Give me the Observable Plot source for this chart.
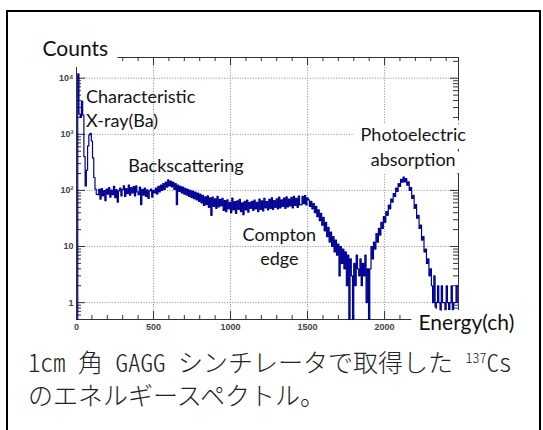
<!DOCTYPE html>
<html><head><meta charset="utf-8">
<script src="https://cdn.jsdelivr.net/npm/d3@7"></script>
<script src="https://cdn.jsdelivr.net/npm/@observablehq/plot@0.6"></script>
<style>
html,body{margin:0;padding:0;background:#fff;overflow:hidden;width:543px;height:430px;}
#chart{position:absolute;left:0;top:0;}
#frame{position:absolute;left:6px;top:10px;width:531px;height:440px;border:2px solid #000;pointer-events:none;}
#caption{position:absolute;left:28px;top:345px;font-family:"Noto Sans CJK JP";font-weight:300;font-size:25px;line-height:33px;white-space:nowrap;color:#222;}
#caption .h{font-feature-settings:"hwid";}
#caption sup{font-size:14px;vertical-align:9px;line-height:0;}
</style></head>
<body>
<div id="chart"></div>
<div id="caption"><span class="h">1cm </span>角<span class="h"> GAGG </span>シンチレータで取得した<span class="h"> </span><sup class="h">137</sup><span class="h">Cs</span><br>のエネルギースペクトル。</div>
<div id="frame"></div>
<script>
// ---- data (counts per 8-channel bin) ----
const binWidth = 8;
const counts = [
  0, 12000, 2300, 2000, 3900, 2200, 400, 120, 230, 620, 980, 1040, 760, 380, 170, 105, 85,
  84, 104, 70, 108, 80, 99, 66, 106, 86, 112, 76, 101, 84, 118, 74, 103, 62, 98, 110, 80, 104, 120, 78, 108, 88, 125, 82, 112, 90, 117, 80, 121, 94, 84, 114, 56, 104, 82, 110, 78, 102, 72, 98, 106, 76, 100,
  90, 110, 86, 118, 94, 125, 100, 132, 104, 140, 114, 155, 120, 146, 116, 140, 104, 132,
  56, 124, 96, 118, 90, 114, 86, 109, 82, 104, 78, 100, 74, 97, 71, 93, 68, 90, 64, 86,
  60, 82, 54, 77, 56, 80, 50, 74, 36, 76, 52, 71, 48, 78, 51, 69,
  53, 72, 44, 66, 42, 68, 47, 61, 40, 73, 45, 63, 39, 65, 46, 69, 42, 60, 37, 64, 45, 67, 41, 61, 48,
  64, 44, 67, 47, 61, 42, 70, 46, 65, 43, 72, 49, 63, 45, 69, 48, 74, 46, 66, 50, 71, 47, 76, 49, 68, 52, 73, 48, 77, 51, 70, 53, 75, 49, 78, 54, 72, 50, 79, 55,
  56, 78, 58, 81, 55, 74,
  68, 52, 64, 47, 58, 40, 52, 34, 45, 29, 39, 24, 33, 19, 27, 15, 22, 12, 18, 10, 15, 8, 13, 7, 11, 3, 10, 5, 9, 4, 8, 2, 7,
  0, 6, 3, 0, 5, 2, 7, 4, 3, 6, 2, 5, 3, 7, 1, 4, 0,
  4, 10, 6, 12, 9, 17, 12, 21, 16, 27, 21, 34, 27, 42, 36, 55, 47, 70, 62, 88, 78, 110, 96, 132, 118, 158, 140,
  172, 142, 162, 124, 142, 100, 112, 72, 82, 48, 56, 32, 36, 21, 24, 13, 15, 8, 9, 5, 6, 3, 4,
  2, 1, 3, 0, 1, 2, 1, 0, 2, 1, 1, 0, 2, 1, 0, 1, 2, 0, 1, 1, 2, 1
];
const xMajorTicks = [0, 500, 1000, 1500, 2000];
const xMinorTicks = [100, 200, 300, 400, 600, 700, 800, 900, 1100, 1200, 1300, 1400, 1600, 1700, 1800, 1900, 2100, 2200, 2300, 2400];
const yMajorTicks = [1, 10, 100, 1000, 10000];
const yTickLabels = ["1", "10", "10²", "10³", "10⁴"];
const yMinorTicks = [0.6, 0.7, 0.8, 0.9, 2, 3, 4, 5, 6, 7, 8, 9, 20, 30, 40, 50, 60, 70, 80, 90,
  200, 300, 400, 500, 600, 700, 800, 900, 2000, 3000, 4000, 5000, 6000, 7000, 8000, 9000, 20000];
const annotationTexts = ["Characteristic\nX-ray(Ba)", "Backscattering", "Compton\nedge", "Photoelectric\nabsorption"];
const annotationChannels = [62, 710, 1317, 2186];
const annotationCounts = [3060, 292, 10.4, 626];
const yAxisLabel = "Counts";
const xAxisLabel = "Energy(ch)";

// ---- layout ----
const W = 543, H = 345;
const mL = 76, mR = 85, mT = 57, mB = 26;
const plotW = W - mL - mR, plotH = H - mT - mB;
const yMin = 0.5, yMax = 23400, xMax = 2480;
const blue = "#000094";
const axisColor = "#333";
const gridStyle = {stroke: "#8c8c8c", strokeDasharray: "1,1.6"};
const labelFont = "Lato";

const hist = counts.map((c, i) => ({ch: i * binWidth, c}));
const ann = annotationTexts.map((t, i) => ({t, ch: annotationChannels[i], n: annotationCounts[i]}));

const chart = Plot.plot({
  width: W, height: H,
  marginLeft: mL, marginRight: mR, marginTop: mT, marginBottom: mB,
  x: {domain: [0, xMax]},
  y: {type: "log", domain: [yMin, yMax]},
  style: {background: "transparent", fontFamily: "Liberation Sans"},
  marks: [
    Plot.ruleX(xMajorTicks.slice(1), gridStyle),
    Plot.ruleY(yMajorTicks, gridStyle),
    Plot.frame({stroke: axisColor}),
    // inward ticks, ROOT style
    Plot.ruleX(xMajorTicks, {insetTop: plotH - 8, stroke: axisColor}),
    Plot.ruleX(xMinorTicks, {insetTop: plotH - 4, stroke: axisColor}),
    Plot.ruleX(xMajorTicks, {insetBottom: plotH - 8, stroke: axisColor}),
    Plot.ruleX(xMinorTicks, {insetBottom: plotH - 4, stroke: axisColor}),
    Plot.ruleY(yMajorTicks, {insetRight: plotW - 9, stroke: axisColor}),
    Plot.ruleY(yMinorTicks, {insetRight: plotW - 5, stroke: axisColor}),
    Plot.ruleY(yMajorTicks, {insetLeft: plotW - 8, stroke: axisColor}),
    Plot.ruleY(yMinorTicks, {insetLeft: plotW - 5, stroke: axisColor}),
    Plot.axisX(xMajorTicks, {tickSize: 0, tickPadding: 4, label: null, fontSize: 9, fontWeight: "bold", fill: "#444", tickFormat: d => String(d)}),
    Plot.axisY(yMajorTicks, {tickSize: 0, tickPadding: 3, label: null, fontSize: 9, fontWeight: "bold", fill: "#444", tickFormat: d => yTickLabels[yMajorTicks.indexOf(d)]}),
    // spectrum
    Plot.lineY(hist, {x: "ch", y: d => Math.max(d.c, yMin), curve: "step-after", stroke: blue, strokeWidth: 1.2}),
    // annotations
    Plot.text(ann.slice(0, 1), {x: "ch", y: "n", text: "t", textAnchor: "start", lineHeight: 1.33, fontFamily: labelFont, fontSize: 18, fill: "#151515"}),
    Plot.text(ann.slice(1, 3), {x: "ch", y: "n", text: "t", textAnchor: "middle", lineHeight: 1.33, fontFamily: labelFont, fontSize: 18, fill: "#151515"}),
    Plot.text(ann.slice(3), {x: "ch", y: "n", text: "t", textAnchor: "middle", lineHeight: 1.39, fontFamily: labelFont, fontSize: 18, fill: "#151515", stroke: "white", strokeWidth: 16, strokeLinejoin: "round", paintOrder: "stroke"}),
    // axis titles on white boxes
    Plot.text([yAxisLabel], {text: d => d, frameAnchor: "top-left", dx: -34, dy: -8, textAnchor: "start", lineAnchor: "middle", fontFamily: labelFont, fontSize: 21, fill: "#111", stroke: "white", strokeWidth: 22, strokeLinejoin: "round", paintOrder: "stroke"}),
    Plot.text([xAxisLabel], {text: d => d, frameAnchor: "bottom-right", dx: -40, dy: 4, textAnchor: "start", lineAnchor: "middle", fontFamily: labelFont, fontSize: 21, fill: "#111", stroke: "white", strokeWidth: 18, strokeLinejoin: "round", paintOrder: "stroke"})
  ]
});
document.getElementById("chart").appendChild(chart);
</script>
</body></html>
